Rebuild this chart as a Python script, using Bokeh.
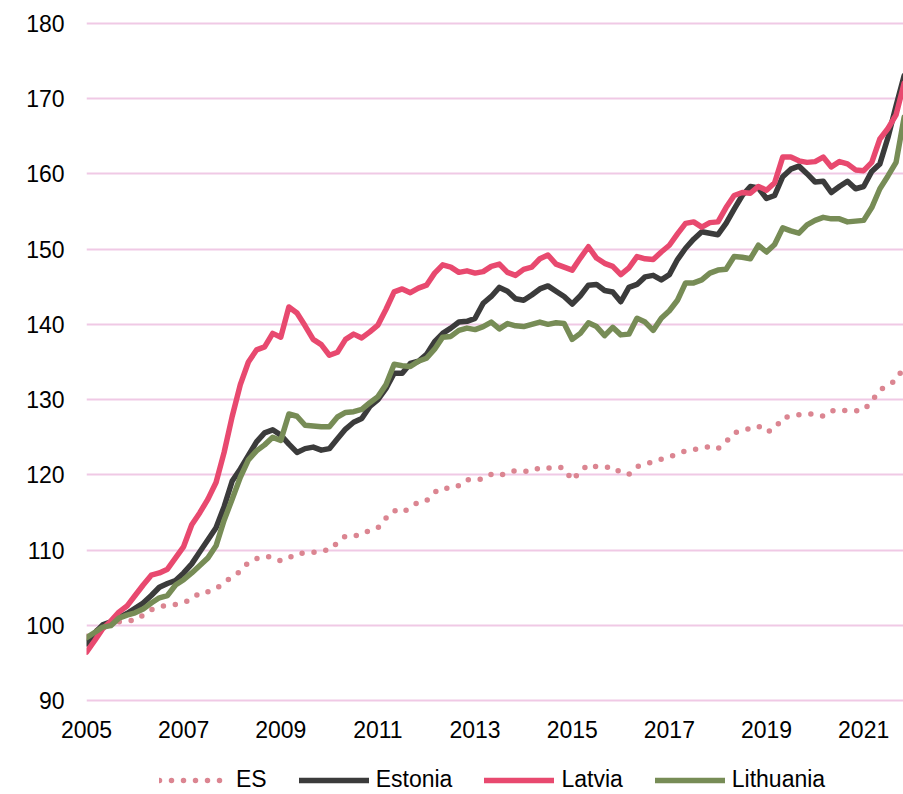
import numpy as np
from bokeh.plotting import figure
from bokeh.layouts import column
from bokeh.models import Range1d, FixedTicker, Legend, LegendItem, ColumnDataSource
from bokeh.embed import file_html
from bokeh.resources import INLINE

# bi-monthly observations, Jan 2005 .. Nov 2021 (months since Jan 2005)
months = list(range(0, 204, 2))

es = [98.6, 99.2, 99.8, 100.2, 100.5, 100.7, 100.7, 101.4, 102.1, 102.5, 102.7, 102.8,
      103.1, 103.5, 104.4, 104.5, 104.9, 105.7, 106.5, 107.2, 108.4, 108.9, 109.2, 109.1,
      108.6, 109.0, 109.6, 109.6, 109.7, 110.0, 110.0, 111.0, 111.9, 111.9, 112.1, 112.7,
      113.0, 114.3, 115.3, 115.0, 115.7, 116.4, 116.6, 117.7, 118.3, 118.2, 118.6, 119.4,
      119.3, 119.5, 120.1, 119.9, 120.3, 120.6, 120.5, 120.5, 121.0, 120.9, 121.1, 120.9,
      119.3, 120.5, 121.4, 121.1, 121.0, 121.1, 120.3, 120.1, 121.1, 121.5, 121.7, 122.1,
      122.4, 122.8, 123.2, 123.4, 123.5, 123.8, 123.5, 124.4, 125.6, 125.9, 126.2, 126.5,
      125.7, 126.1, 127.6, 127.8, 128.0, 128.1, 128.1, 127.8, 128.5, 128.7, 128.5, 128.5,
      128.6, 129.8, 131.3, 131.9, 132.6, 134.4]

estonia = [97.6, 99.0, 100.1, 100.5, 101.1, 101.6, 102.3, 103.0, 104.0, 105.1, 105.6, 106.0,
           107.0, 108.2, 109.8, 111.4, 113.0, 115.8, 119.2, 120.8, 122.6, 124.4, 125.6, 126.0,
           125.3, 124.1, 123.0, 123.5, 123.7, 123.3, 123.5, 124.8, 126.1, 127.0, 127.5, 129.1,
           130.0, 131.5, 133.5, 133.5, 134.8, 135.1, 136.0, 137.7, 138.8, 139.5, 140.3, 140.4,
           140.8, 142.8, 143.7, 144.9, 144.4, 143.4, 143.2, 143.9, 144.7, 145.1, 144.4, 143.7,
           142.7, 143.8, 145.2, 145.3, 144.5, 144.3, 143.0, 144.9, 145.3, 146.3, 146.5, 145.9,
           146.6, 148.6, 150.1, 151.3, 152.3, 152.1, 151.9, 153.4, 155.3, 157.1, 158.3, 158.1,
           156.7, 157.1, 159.6, 160.6, 161.0, 160.0, 158.9, 159.0, 157.5, 158.3, 159.0, 158.0,
           158.3, 160.3, 161.3, 164.8, 169.0, 173.0]

latvia = [96.5, 98.0, 99.6, 100.6, 101.8, 102.6, 104.0, 105.4, 106.7, 107.0, 107.5, 109.0,
          110.5, 113.4, 115.0, 116.8, 119.0, 123.0, 127.8, 132.0, 135.0, 136.6, 137.0, 138.8,
          138.3, 142.3, 141.5, 139.8, 138.0, 137.3, 135.9, 136.3, 138.0, 138.7, 138.2, 139.0,
          139.9, 142.0, 144.3, 144.7, 144.2, 144.8, 145.2, 146.8, 147.9, 147.6, 146.9, 147.1,
          146.8, 147.0, 147.7, 148.0, 146.9, 146.5, 147.3, 147.6, 148.7, 149.2, 148.0, 147.6,
          147.2, 148.8, 150.3, 148.8, 148.1, 147.7, 146.6, 147.5, 149.0, 148.7, 148.6, 149.6,
          150.5, 152.0, 153.4, 153.6, 152.9, 153.5, 153.6, 155.5, 157.1, 157.5, 157.4, 158.3,
          157.8, 158.8, 162.2, 162.2, 161.7, 161.5, 161.6, 162.2, 160.9, 161.6, 161.3, 160.5,
          160.4, 161.5, 164.6, 166.0, 167.8, 172.0]

lithuania = [98.4, 99.1, 99.8, 100.0, 101.0, 101.4, 101.7, 102.2, 103.0, 103.7, 104.0, 105.4,
             106.1, 107.0, 108.0, 109.0, 110.6, 114.0, 116.8, 119.7, 122.0, 123.2, 124.0, 125.0,
             124.6, 128.1, 127.8, 126.6, 126.5, 126.4, 126.4, 127.7, 128.3, 128.4, 128.7, 129.6,
             130.4, 132.0, 134.7, 134.5, 134.4, 135.1, 135.5, 136.7, 138.3, 138.4, 139.2, 139.5,
             139.3, 139.7, 140.3, 139.4, 140.1, 139.8, 139.7, 140.0, 140.3, 140.0, 140.2, 140.1,
             138.0, 138.8, 140.2, 139.7, 138.5, 139.6, 138.6, 138.7, 140.8, 140.3, 139.2, 140.8,
             141.8, 143.2, 145.5, 145.5, 145.9, 146.8, 147.2, 147.3, 149.0, 148.9, 148.7, 150.5,
             149.6, 150.6, 152.8, 152.4, 152.1, 153.2, 153.8, 154.2, 154.0, 154.0, 153.6, 153.7,
             153.8, 155.5, 158.0, 159.7, 161.5, 167.5]

x_ticks = [2005, 2007, 2009, 2011, 2013, 2015, 2017, 2019, 2021]
y_ticks = [90, 100, 110, 120, 130, 140, 150, 160, 170, 180]
series_names = ["ES", "Estonia", "Latvia", "Lithuania"]
series_cols = ["es", "estonia", "latvia", "lithuania"]
series_colors = ["#DB8591", "#3B3B3B", "#E8496F", "#778C56"]
series_dash = ["0 12", "solid", "solid", "solid"]
series_width = [5.5, 5.5, 5.5, 5.5]

t = 2005 + np.array(months) / 12.0
src = ColumnDataSource(dict(t=t, es=es, estonia=estonia, latvia=latvia, lithuania=lithuania))

FONT = "Liberation Sans"

p = figure(width=903, height=747, output_backend="svg", toolbar_location=None,
           x_range=Range1d(2005.0, 2021.82), y_range=Range1d(89.8, 180.2),
           min_border_left=86, min_border_right=0, min_border_top=21, min_border_bottom=45)
p.outline_line_color = None
p.background_fill_color = "white"
p.border_fill_color = "white"

for col, c, d, w in zip(series_cols, series_colors, series_dash, series_width):
    p.line("t", col, source=src, line_color=c, line_width=w, line_dash=d,
           line_cap="round", line_join="round")

p.xgrid.grid_line_color = None
p.ygrid.grid_line_color = "#F0C9E5"
p.ygrid.grid_line_width = 2
p.yaxis.ticker = FixedTicker(ticks=y_ticks)
p.xaxis.ticker = FixedTicker(ticks=x_ticks)

for ax in (p.xaxis[0], p.yaxis[0]):
    ax.axis_line_color = None
    ax.major_tick_line_color = None
    ax.minor_tick_line_color = None
    ax.major_tick_out = 0
    ax.major_tick_in = 0
    ax.major_label_text_font = FONT
    ax.major_label_text_font_size = "23px"
    ax.major_label_text_color = "black"
p.yaxis.major_label_standoff = 22
p.xaxis.major_label_standoff = 18

# legend strip below the chart (its frame is aligned with the chart's frame)
lf = figure(width=903, height=47, output_backend="svg", toolbar_location=None,
            x_axis_type=None, y_axis_type=None, x_range=Range1d(0, 1), y_range=Range1d(0, 1),
            min_border=0)
lf.outline_line_color = None
lf.grid.grid_line_color = None
items = []
for name, col, c, d, w in zip(series_names, series_cols, series_colors, series_dash, series_width):
    r = lf.line("t", col, source=src, line_color=c, line_width=w, line_dash=d,
                line_cap="round", line_join="round")
    items.append(LegendItem(label=name, renderers=[r]))
legend = Legend(items=items, orientation="horizontal", location=(73, 1),
                glyph_width=70, glyph_height=20, label_standoff=7, spacing=32,
                padding=0, margin=0, border_line_alpha=0, background_fill_alpha=0,
                label_text_font=FONT, label_text_font_size="23px", label_text_color="black")
lf.add_layout(legend)

layout = column(p, lf, spacing=0)
open("out.html", "w").write(file_html(layout, INLINE))
